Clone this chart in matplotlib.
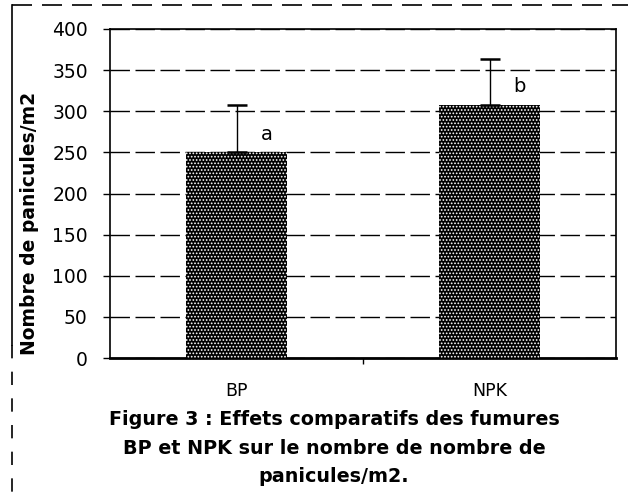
import matplotlib.pyplot as plt
from matplotlib.lines import Line2D

# Données
categories = ['BP', 'NPK']
valeurs = [250, 308]
erreurs = [57, 56]
lettres = ['a', 'b']
yticks = [0, 50, 100, 150, 200, 250, 300, 350, 400]

plt.rcParams['font.family'] = ['DejaVu Sans']
plt.rcParams['hatch.color'] = 'white'
plt.rcParams['hatch.linewidth'] = 0.8

fig = plt.figure(figsize=(6.3, 5.03), dpi=100)
ax = fig.add_axes([110 / 630, 145 / 503, 506 / 630, 329 / 503])

pos = range(len(categories))
ax.bar(pos, valeurs, width=0.4, color='black', hatch='.....', edgecolor='white',
       linewidth=0, zorder=3)
ax.errorbar(pos, valeurs, yerr=[[0] * len(erreurs), erreurs], fmt='none',
            ecolor='black', elinewidth=1, capsize=7, capthick=1.8, zorder=4)

# lettres de significativité
for x, v, e, l in zip(pos, valeurs, erreurs, lettres):
    ax.text(x + 0.12, v + 10, l, fontsize=14, ha='center', va='bottom')

ax.set_xlim(-0.5, 1.5)
ax.set_ylim(0, 400)
ax.set_yticks(yticks)
ax.set_yticklabels([str(t) for t in yticks], fontsize=13.5)
ax.set_xticks([0.5])
ax.set_xticklabels([''])
ax.tick_params(axis='x', length=4, width=1, direction='out')
ax.set_xticks(list(pos), minor=True)
ax.set_xticklabels(categories, minor=True, fontsize=12.5)
ax.tick_params(axis='x', which='minor', length=0, pad=17)
ax.tick_params(axis='y', length=5, width=1, direction='out', pad=11)

ax.yaxis.grid(True, color='black', linewidth=1, linestyle=(0, (14, 4)))
ax.set_axisbelow(True)
for s in ax.spines.values():
    s.set_linewidth(1.2)
    s.set_color('black')
ax.spines['bottom'].set_linewidth(2)

fig.text(30 / 630, 1 - 223 / 503, 'Nombre de panicules/m2', rotation=90,
         fontsize=13.5, fontweight='bold', ha='center', va='center')

caption = ('Figure 3 : Effets comparatifs des fumures\n'
           'BP et NPK sur le nombre de nombre de\n'
           'panicules/m2.')
fig.text(334 / 630, 1 - 448 / 503, caption, fontsize=13.8, fontweight='bold',
         ha='center', va='center', linespacing=1.65)

# cadre extérieur de la zone du graphique
fig.add_artist(Line2D([12 / 630, 628 / 630], [1 - 5 / 503, 1 - 5 / 503],
                      color='black', linewidth=1.2, linestyle=(0, (12, 6))))
fig.add_artist(Line2D([12 / 630, 12 / 630], [1 - 5 / 503, 1 - 345 / 503],
                      color='black', linewidth=1.2))
fig.add_artist(Line2D([12 / 630, 12 / 630], [1 - 345 / 503, 0],
                      color='black', linewidth=1.2, linestyle=(0, (8, 8))))

fig.savefig('out.png', dpi=100)
